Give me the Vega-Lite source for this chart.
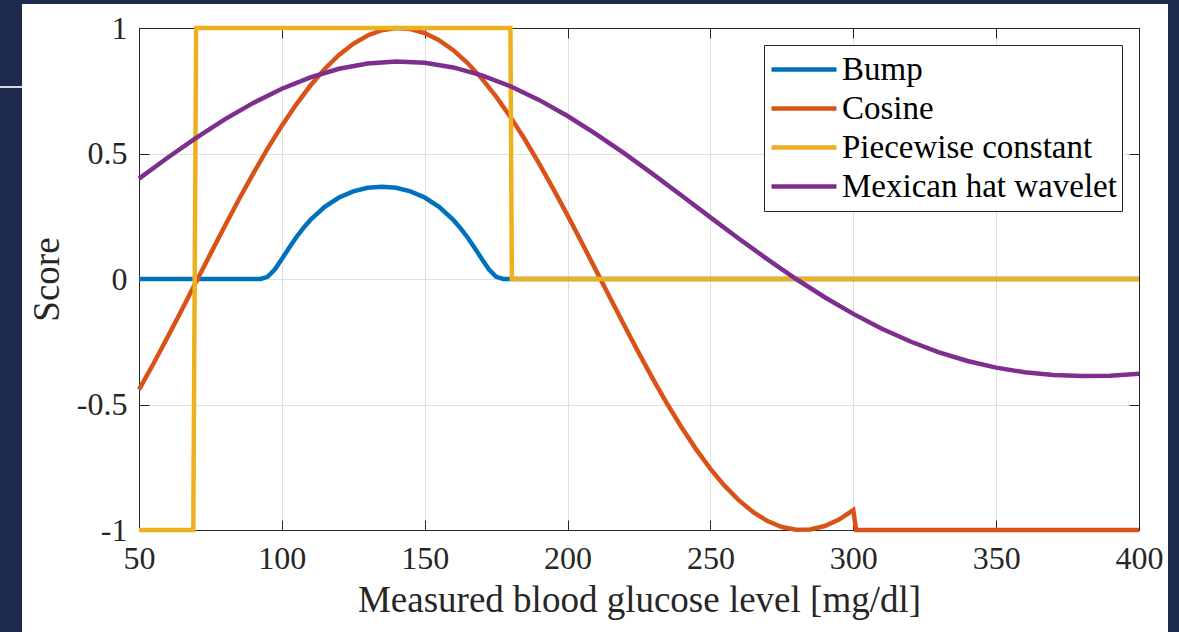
{
  "$schema": "https://vega.github.io/schema/vega-lite/v6.json",
  "width": 1000,
  "height": 502,
  "autosize": {"type": "none"},
  "padding": {"left": 139, "top": 28, "right": 40, "bottom": 102},
  "background": "white",
  "datasets": {
    "curves": [
      {"series": "Bump", "glucose": 50, "score": 0},
      {"series": "Bump", "glucose": 90, "score": 0},
      {"series": "Bump", "glucose": 92.5, "score": 0.0001},
      {"series": "Bump", "glucose": 95, "score": 0.0085},
      {"series": "Bump", "glucose": 97.5, "score": 0.0379},
      {"series": "Bump", "glucose": 100, "score": 0.0796},
      {"series": "Bump", "glucose": 102.5, "score": 0.1237},
      {"series": "Bump", "glucose": 105, "score": 0.1653},
      {"series": "Bump", "glucose": 107.5, "score": 0.2027},
      {"series": "Bump", "glucose": 110, "score": 0.2354},
      {"series": "Bump", "glucose": 115, "score": 0.2876},
      {"series": "Bump", "glucose": 120, "score": 0.3247},
      {"series": "Bump", "glucose": 125, "score": 0.3493},
      {"series": "Bump", "glucose": 130, "score": 0.3633},
      {"series": "Bump", "glucose": 135, "score": 0.3679},
      {"series": "Bump", "glucose": 140, "score": 0.3633},
      {"series": "Bump", "glucose": 145, "score": 0.3493},
      {"series": "Bump", "glucose": 150, "score": 0.3247},
      {"series": "Bump", "glucose": 155, "score": 0.2876},
      {"series": "Bump", "glucose": 160, "score": 0.2354},
      {"series": "Bump", "glucose": 162.5, "score": 0.2027},
      {"series": "Bump", "glucose": 165, "score": 0.1653},
      {"series": "Bump", "glucose": 167.5, "score": 0.1237},
      {"series": "Bump", "glucose": 170, "score": 0.0796},
      {"series": "Bump", "glucose": 172.5, "score": 0.0379},
      {"series": "Bump", "glucose": 175, "score": 0.0085},
      {"series": "Bump", "glucose": 177.5, "score": 0.0001},
      {"series": "Bump", "glucose": 180, "score": 0},
      {"series": "Bump", "glucose": 400, "score": 0},

      {"series": "Cosine", "glucose": 50, "score": -0.4410},
      {"series": "Cosine", "glucose": 55, "score": -0.3386},
      {"series": "Cosine", "glucose": 60, "score": -0.2318},
      {"series": "Cosine", "glucose": 65, "score": -0.1222},
      {"series": "Cosine", "glucose": 70, "score": -0.0111},
      {"series": "Cosine", "glucose": 75, "score": 0.1000},
      {"series": "Cosine", "glucose": 80, "score": 0.2101},
      {"series": "Cosine", "glucose": 85, "score": 0.3175},
      {"series": "Cosine", "glucose": 90, "score": 0.4209},
      {"series": "Cosine", "glucose": 95, "score": 0.5192},
      {"series": "Cosine", "glucose": 100, "score": 0.6109},
      {"series": "Cosine", "glucose": 105, "score": 0.6951},
      {"series": "Cosine", "glucose": 110, "score": 0.7708},
      {"series": "Cosine", "glucose": 115, "score": 0.8368},
      {"series": "Cosine", "glucose": 120, "score": 0.8925},
      {"series": "Cosine", "glucose": 125, "score": 0.9371},
      {"series": "Cosine", "glucose": 130, "score": 0.9701},
      {"series": "Cosine", "glucose": 135, "score": 0.9911},
      {"series": "Cosine", "glucose": 140, "score": 0.9998},
      {"series": "Cosine", "glucose": 145, "score": 0.9960},
      {"series": "Cosine", "glucose": 150, "score": 0.9800},
      {"series": "Cosine", "glucose": 155, "score": 0.9517},
      {"series": "Cosine", "glucose": 160, "score": 0.9117},
      {"series": "Cosine", "glucose": 165, "score": 0.8604},
      {"series": "Cosine", "glucose": 170, "score": 0.7984},
      {"series": "Cosine", "glucose": 175, "score": 0.7266},
      {"series": "Cosine", "glucose": 180, "score": 0.6458},
      {"series": "Cosine", "glucose": 185, "score": 0.5568},
      {"series": "Cosine", "glucose": 190, "score": 0.4609},
      {"series": "Cosine", "glucose": 195, "score": 0.3594},
      {"series": "Cosine", "glucose": 200, "score": 0.2534},
      {"series": "Cosine", "glucose": 205, "score": 0.1444},
      {"series": "Cosine", "glucose": 210, "score": 0.0334},
      {"series": "Cosine", "glucose": 215, "score": -0.0779},
      {"series": "Cosine", "glucose": 220, "score": -0.1883},
      {"series": "Cosine", "glucose": 225, "score": -0.2962},
      {"series": "Cosine", "glucose": 230, "score": -0.4006},
      {"series": "Cosine", "glucose": 235, "score": -0.5000},
      {"series": "Cosine", "glucose": 240, "score": -0.5931},
      {"series": "Cosine", "glucose": 245, "score": -0.6787},
      {"series": "Cosine", "glucose": 250, "score": -0.7563},
      {"series": "Cosine", "glucose": 255, "score": -0.8244},
      {"series": "Cosine", "glucose": 260, "score": -0.8822},
      {"series": "Cosine", "glucose": 265, "score": -0.9291},
      {"series": "Cosine", "glucose": 270, "score": -0.9645},
      {"series": "Cosine", "glucose": 275, "score": -0.9879},
      {"series": "Cosine", "glucose": 280, "score": -0.9990},
      {"series": "Cosine", "glucose": 285, "score": -0.9978},
      {"series": "Cosine", "glucose": 290, "score": -0.9842},
      {"series": "Cosine", "glucose": 295, "score": -0.9583},
      {"series": "Cosine", "glucose": 300, "score": -0.9206},
      {"series": "Cosine", "glucose": 301, "score": -1},
      {"series": "Cosine", "glucose": 400, "score": -1},

      {"series": "Piecewise constant", "glucose": 50, "score": -1},
      {"series": "Piecewise constant", "glucose": 69, "score": -1},
      {"series": "Piecewise constant", "glucose": 70, "score": 1},
      {"series": "Piecewise constant", "glucose": 180, "score": 1},
      {"series": "Piecewise constant", "glucose": 180.5, "score": 0},
      {"series": "Piecewise constant", "glucose": 400, "score": 0},

      {"series": "Mexican hat wavelet", "glucose": 50, "score": 0.3998},
      {"series": "Mexican hat wavelet", "glucose": 60, "score": 0.4831},
      {"series": "Mexican hat wavelet", "glucose": 70, "score": 0.5624},
      {"series": "Mexican hat wavelet", "glucose": 80, "score": 0.6358},
      {"series": "Mexican hat wavelet", "glucose": 90, "score": 0.7015},
      {"series": "Mexican hat wavelet", "glucose": 100, "score": 0.7579},
      {"series": "Mexican hat wavelet", "glucose": 110, "score": 0.8036},
      {"series": "Mexican hat wavelet", "glucose": 120, "score": 0.8376},
      {"series": "Mexican hat wavelet", "glucose": 130, "score": 0.8589},
      {"series": "Mexican hat wavelet", "glucose": 140, "score": 0.8669},
      {"series": "Mexican hat wavelet", "glucose": 150, "score": 0.8616},
      {"series": "Mexican hat wavelet", "glucose": 160, "score": 0.8429},
      {"series": "Mexican hat wavelet", "glucose": 170, "score": 0.8114},
      {"series": "Mexican hat wavelet", "glucose": 180, "score": 0.7679},
      {"series": "Mexican hat wavelet", "glucose": 190, "score": 0.7135},
      {"series": "Mexican hat wavelet", "glucose": 200, "score": 0.6495},
      {"series": "Mexican hat wavelet", "glucose": 210, "score": 0.5776},
      {"series": "Mexican hat wavelet", "glucose": 220, "score": 0.4995},
      {"series": "Mexican hat wavelet", "glucose": 230, "score": 0.4167},
      {"series": "Mexican hat wavelet", "glucose": 240, "score": 0.3315},
      {"series": "Mexican hat wavelet", "glucose": 250, "score": 0.2455},
      {"series": "Mexican hat wavelet", "glucose": 260, "score": 0.1605},
      {"series": "Mexican hat wavelet", "glucose": 270, "score": 0.0781},
      {"series": "Mexican hat wavelet", "glucose": 280, "score": 0},
      {"series": "Mexican hat wavelet", "glucose": 290, "score": -0.0727},
      {"series": "Mexican hat wavelet", "glucose": 300, "score": -0.1390},
      {"series": "Mexican hat wavelet", "glucose": 310, "score": -0.1980},
      {"series": "Mexican hat wavelet", "glucose": 320, "score": -0.2491},
      {"series": "Mexican hat wavelet", "glucose": 330, "score": -0.2920},
      {"series": "Mexican hat wavelet", "glucose": 340, "score": -0.3266},
      {"series": "Mexican hat wavelet", "glucose": 350, "score": -0.3530},
      {"series": "Mexican hat wavelet", "glucose": 360, "score": -0.3715},
      {"series": "Mexican hat wavelet", "glucose": 370, "score": -0.3826},
      {"series": "Mexican hat wavelet", "glucose": 380, "score": -0.3868},
      {"series": "Mexican hat wavelet", "glucose": 390, "score": -0.3850},
      {"series": "Mexican hat wavelet", "glucose": 400, "score": -0.3777}
    ]
  },
  "resolve": {"axis": {"x": "independent", "y": "independent"}},
  "layer": [
    {
      "data": {"name": "curves"},
      "mark": {"type": "line", "strokeWidth": 4.5, "clip": false},
      "encoding": {
        "x": {
          "field": "glucose", "type": "quantitative",
          "scale": {"domain": [50, 400], "nice": false, "zero": false},
          "axis": {
            "orient": "bottom",
            "values": [50, 100, 150, 200, 250, 300, 350, 400],
            "title": "Measured blood glucose level [mg/dl]",
            "grid": true, "gridColor": "#dfdfdf", "gridWidth": 1,
            "domainColor": "#262626", "domainWidth": 1,
            "tickColor": "#262626", "tickSize": -10, "tickWidth": 1,
            "labelFont": "Liberation Serif", "labelFontSize": 32, "labelColor": "#262626",
            "labelPadding": 23, "labelFlush": false, "labelOverlap": false,
            "titleFont": "Liberation Serif", "titleFontSize": 37, "titleFontWeight": "normal",
            "titleColor": "#262626", "titlePadding": 8
          }
        },
        "y": {
          "field": "score", "type": "quantitative",
          "scale": {"domain": [-1, 1], "nice": false, "zero": false},
          "axis": {
            "orient": "left",
            "values": [-1, -0.5, 0, 0.5, 1],
            "labelExpr": "(datum.value < 0 ? '-' : '') + format(abs(datum.value), '')",
            "title": "Score",
            "grid": true, "gridColor": "#dfdfdf", "gridWidth": 1,
            "domainColor": "#262626", "domainWidth": 1,
            "tickColor": "#262626", "tickSize": -10, "tickWidth": 1,
            "labelFont": "Liberation Serif", "labelFontSize": 32, "labelColor": "#262626",
            "labelPadding": 22, "labelFlush": false, "labelOverlap": false,
            "titleFont": "Liberation Serif", "titleFontSize": 37, "titleFontWeight": "normal",
            "titleColor": "#262626", "titlePadding": 10
          }
        },
        "color": {
          "field": "series", "type": "nominal",
          "scale": {
            "domain": ["Bump", "Cosine", "Piecewise constant", "Mexican hat wavelet"],
            "range": ["#0072BD", "#D95319", "#EDB120", "#7E2F8E"]
          },
          "legend": {
            "orient": "top-right", "offset": 17, "title": null,
            "symbolType": "stroke", "symbolSize": 4225, "symbolStrokeWidth": 4.5,
            "labelFont": {"expr": "'Liberation Serif'"}, "labelFontSize": 33, "labelColor": "#000000",
            "labelLimit": 600,
            "strokeColor": "#262626", "fillColor": "white", "padding": 5,
            "rowPadding": 0, "clipHeight": 39, "labelOffset": 3
          }
        }
      }
    },
    {
      "data": {"values": [{}]},
      "mark": {"type": "rect", "color": "#1d2a4d", "clip": false},
      "encoding": {
        "x": {"datum": -10, "type": "quantitative",
          "scale": {"domain": [50, 400], "nice": false, "zero": false},
          "axis": {
            "orient": "top", "values": [50, 100, 150, 200, 250, 300, 350, 400],
            "labels": false, "grid": false, "title": null,
            "domainColor": "#262626", "domainWidth": 1,
            "tickColor": "#262626", "tickSize": -10, "tickWidth": 1
          }
        },
        "x2": {"datum": 9.05},
        "y": {"datum": 1.3, "type": "quantitative",
          "scale": {"domain": [-1, 1], "nice": false, "zero": false},
          "axis": {
            "orient": "right", "values": [-1, -0.5, 0, 0.5, 1],
            "labels": false, "grid": false, "title": null,
            "domainColor": "#262626", "domainWidth": 1,
            "tickColor": "#262626", "tickSize": -10, "tickWidth": 1
          }
        },
        "y2": {"datum": -1.6}
      }
    },
    {
      "data": {"values": [{}]},
      "mark": {"type": "rect", "color": "#1d2a4d", "clip": false},
      "encoding": {
        "x": {"datum": 410.15, "type": "quantitative", "axis": null},
        "x2": {"datum": 425},
        "y": {"datum": 1.3, "type": "quantitative", "axis": null},
        "y2": {"datum": -1.6}
      }
    },
    {
      "data": {"values": [{}]},
      "mark": {"type": "rect", "color": "#1d2a4d", "clip": false},
      "encoding": {
        "x": {"datum": -10, "type": "quantitative", "axis": null},
        "x2": {"datum": 425},
        "y": {"datum": 1.3, "type": "quantitative", "axis": null},
        "y2": {"datum": 1.0956}
      }
    },
    {
      "data": {"values": [{}]},
      "mark": {"type": "rule", "color": "#d9dbe0", "strokeWidth": 2, "clip": false},
      "encoding": {
        "x": {"datum": -10, "type": "quantitative", "axis": null},
        "x2": {"datum": 9.05},
        "y": {"datum": 0.765, "type": "quantitative", "axis": null}
      }
    }
  ],
  "config": {
    "view": {"stroke": null},
    "font": "Liberation Serif",
    "legend": {"labelFont": "Liberation Serif", "titleFont": "Liberation Serif"}
  }
}
